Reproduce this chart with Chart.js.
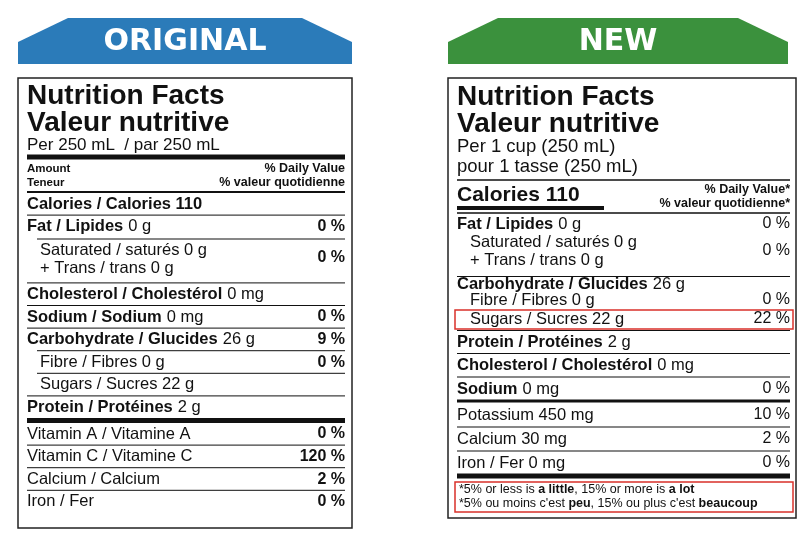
<!DOCTYPE html>
<html><head><meta charset="utf-8">
<script src="https://cdn.jsdelivr.net/npm/chart.js@4"></script>
<style>html,body{margin:0;padding:0;background:#fff}#w{width:800px;height:533px}</style>
</head><body><div id="w"><canvas id="c"></canvas></div>
<script>
// ---- data ----
const panelTitles = ["ORIGINAL", "NEW"];
const origBold = ["Calories / Calories 110","Fat / Lipides","Saturated / saturés 0 g","Cholesterol / Cholestérol","Sodium / Sodium","Carbohydrate / Glucides","Fibre / Fibres 0 g","Sugars / Sucres 22 g","Protein / Protéines","Vitamin A / Vitamine A","Vitamin C / Vitamine C","Calcium / Calcium","Iron / Fer"];
const origAmount = ["","0 g","+ Trans / trans 0 g","0 mg","0 mg","26 g","","","2 g","","","",""];
const origDV = ["","0 %","0 %","","0 %","9 %","0 %","","","0 %","120 %","2 %","0 %"];
const newBold = ["Fat / Lipides","Saturated / saturés 0 g","Carbohydrate / Glucides","Fibre / Fibres 0 g","Sugars / Sucres 22 g","Protein / Protéines","Cholesterol / Cholestérol","Sodium","Potassium 450 mg","Calcium 30 mg","Iron / Fer 0 mg"];
const newAmount = ["0 g","+ Trans / trans 0 g","26 g","","","2 g","0 mg","0 mg","","",""];
const newDV = ["0 %","0 %","","0 %","22 %","","","0 %","10 %","2 %","0 %"];

// ---- layout (code, not data) ----
const origIndent = [0,0,1,0,0,0,1,1,0,0,0,0,0];
const origBoldW = [1,1,0,1,1,1,0,0,1,0,0,0,0];
const newIndent = [0,1,0,1,1,0,0,0,0,0,0];
const newBoldW = [1,0,1,0,0,1,1,1,0,0,0];
const newY = [224,251,284,300,319,342,365,389,415,439,463];

const F = "'Liberation Sans', Arial, sans-serif";
const plugin = {
  id:'label',
  afterDraw(chart){
    const c = chart.ctx, xs = chart.scales.x, ys = chart.scales.y;
    const X = v=>xs.getPixelForValue(v), Y = v=>ys.getPixelForValue(v);
    const t=(s,x,y,f,al,col)=>{c.font=f;c.textAlign=al||'left';c.fillStyle=col||'#111';c.textBaseline='middle';c.fillText(s,X(x),Y(y));return c.measureText(s).width;};
    const ln=(x1,x2,y,w,col)=>{c.fillStyle=col||'#111';c.fillRect(X(x1),Y(y)-w/2,X(x2)-X(x1),w);};
    c.save();
    const ban=(x1,x2,col,txt)=>{c.fillStyle=col;c.beginPath();c.moveTo(X(x1),Y(64));c.lineTo(X(x1),Y(42));c.lineTo(X(x1+50),Y(18));c.lineTo(X(x2-50),Y(18));c.lineTo(X(x2),Y(42));c.lineTo(X(x2),Y(64));c.closePath();c.fill();
      t(txt,(x1+x2)/2,42,"bold 30px 'DejaVu Sans', sans-serif",'center','#fff');};
    ban(18,352,'#2b7bb9',panelTitles[0]);
    ban(448,788,'#3b913d',panelTitles[1]);
    c.strokeStyle='#222';c.lineWidth=1.5;
    c.strokeRect(X(18),Y(78),X(352)-X(18),Y(528)-Y(78));
    c.strokeRect(X(448),Y(78),X(796)-X(448),Y(518)-Y(78));
    // ---- original ----
    t("Nutrition Facts",27,96,"bold 28px "+F);
    t("Valeur nutritive",27,123,"bold 28px "+F);
    t("Per 250 mL  / par 250 mL",27,145,"17px "+F);
    ln(27,345,157,5);
    t("Amount",27,169,"bold 11.5px "+F); t("Teneur",27,183,"bold 11.5px "+F);
    t("% Daily Value",345,169,"bold 12.5px "+F,'right'); t("% valeur quotidienne",345,183,"bold 12.5px "+F,'right');
    ln(27,345,192,2);
    origBold.forEach((b,i)=>{
      const slot = i<3?i:i+1; let y=204+slot*22.6; if(i>=9) y+=4;
      if(i===2) y=258;
      const top = i===2?239:y-11.5;
      if(i>0){ if(i===9) ln(27,345,top-2,5); else ln(origIndent[i]?37:27,345,top,1);}
      const x=27+origIndent[i]*13;
      const fs="16.5px ";
      if(i===2){ t(b,x,250,fs+F); t(origAmount[i],x,268,fs+F); }
      else { const w=t(b,x,y,(origBoldW[i]?"bold ":"")+fs+F); if(origAmount[i]) t(origAmount[i],x+w+5,y,fs+F); }
      if(origDV[i]) t(origDV[i],345,y,"bold 16px "+F,'right');
    });
    // ---- new ----
    t("Nutrition Facts",457,97,"bold 28px "+F);
    t("Valeur nutritive",457,124,"bold 28px "+F);
    t("Per 1 cup (250 mL)",457,147,"18.5px "+F);
    t("pour 1 tasse (250 mL)",457,167,"18.5px "+F);
    ln(457,790,180,1.5);
    t("Calories 110",457,195,"bold 21px "+F);
    ln(457,604,208,4);
    t("% Daily Value*",790,190,"bold 12.5px "+F,'right'); t("% valeur quotidienne*",790,204,"bold 12.5px "+F,'right');
    ln(457,790,213,1.5);
    newBold.forEach((b,i)=>{
      const y=newY[i], x=457+newIndent[i]*13;
      if(i>0){ const top=(newY[i-1]+y)/2+ (i===2?9:0); if(i===8) ln(457,790,top-1,3); else if(!newIndent[i]) ln(457,790,top,1);}
      const fs="16.5px ";
      if(i===1){ t(b,x,242,fs+F); t(newAmount[i],x,260,fs+F); }
      else { const w=t(b,x,y,(newBoldW[i]?"bold ":"")+fs+F); if(newAmount[i]) t(newAmount[i],x+w+5,y,fs+F); }
      if(newDV[i]) t(newDV[i],790,i===1?251:y,"16px "+F,'right');
    });
    c.strokeStyle='#d9302a';c.lineWidth=1.5;
    c.strokeRect(X(455),Y(310),X(793)-X(455),Y(329)-Y(310));
    ln(457,790,476,5);
    c.strokeRect(X(455),Y(482),X(793)-X(455),Y(512)-Y(482));
    const foot=(parts,y)=>{let x=X(459);c.textBaseline='middle';c.textAlign='left';parts.forEach(([s,b])=>{c.font=(b?"bold ":"")+"12.5px "+F;c.fillStyle='#111';c.fillText(s,x,Y(y));x+=c.measureText(s).width;});};
    foot([["*5% or less is ",0],["a little",1],[", 15% or more is ",0],["a lot",1]],490);
    foot([["*5% ou moins c'est ",0],["peu",1],[", 15% ou plus c'est ",0],["beaucoup",1]],504);
    c.restore();
  }
};
new Chart(document.getElementById('c'),{
  type:'scatter',
  data:{datasets:[{data:[],pointRadius:0}]},
  options:{responsive:true,maintainAspectRatio:false,animation:false,
    layout:{padding:0},
    plugins:{legend:{display:false},tooltip:{enabled:false}},
    scales:{x:{type:'linear',min:0,max:800,display:false},y:{type:'linear',min:0,max:533,reverse:true,display:false}}},
  plugins:[plugin]
});
</script></body></html>
